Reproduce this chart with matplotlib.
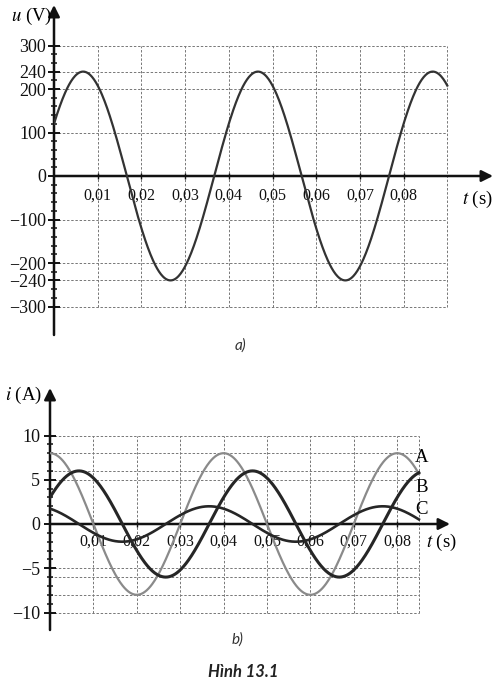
import matplotlib
matplotlib.use("Agg")
import matplotlib.pyplot as plt
import numpy as np

plt.rcParams['font.family'] = ['Liberation Serif', 'DejaVu Serif']
plt.rcParams['mathtext.fontset'] = 'stix'

# values
period = 0.04                       # s, both charts
u_amp = 240                         # V
u_phase_deg = 30
u_t_end = 0.09

i_names = ['A', 'B', 'C']
i_amps = [8, 6, 2]                  # A
i_phase_deg = [90, 30, 120]
i_colors = ['#8a8a8a', '#262626', '#262626']
i_widths = [1.6, 2.2, 1.9]
i_t_end = 0.085

u_ticks = [-300, -240, -200, -100, 0, 100, 200, 240, 300]
i_ticks = [-10, -5, 0, 5, 10]
i_grid = [-10, -8, -6, -5, 5, 6, 8, 10]
t_ticks = [0.01, 0.02, 0.03, 0.04, 0.05, 0.06, 0.07, 0.08]
t_labels = ['0,01', '0,02', '0,03', '0,04', '0,05', '0,06', '0,07', '0,08']

W, H = 502, 683
fig = plt.figure(figsize=(W / 100, H / 100), dpi=100)
cap_font = ['Lato', 'Open Sans', 'DejaVu Sans']


def px_axes(left, top, right, bottom):
    return fig.add_axes([left / W, 1 - bottom / H, (right - left) / W, (bottom - top) / H])


def ftext(x, y, s, **kw):
    fig.text(x / W, 1 - y / H, s, **kw)


def setup(ax, xmax, ylo, yhi, yticks, ylabels, minor_step, xpad, ypad, ysize):
    ax.set_xlim(0, xmax)
    ax.set_ylim(ylo, yhi)
    ax.patch.set_alpha(0)
    for s in ['top', 'right']:
        ax.spines[s].set_visible(False)
    ax.spines['left'].set_position(('data', 0))
    ax.spines['bottom'].set_position(('data', 0))
    ax.spines['left'].set_visible(False)
    ax.spines['bottom'].set_visible(False)
    ax.annotate('', xy=(0, yhi), xytext=(0, ylo),
                arrowprops=dict(arrowstyle='-|>', color='#111111', lw=1.8,
                                mutation_scale=17, shrinkA=0, shrinkB=0))
    ax.annotate('', xy=(xmax, 0), xytext=(0, 0),
                arrowprops=dict(arrowstyle='-|>', color='#111111', lw=1.8,
                                mutation_scale=17, shrinkA=0, shrinkB=0))
    ax.set_yticks(yticks)
    ax.set_yticklabels(ylabels)
    ax.set_yticks(np.arange(yticks[0], yticks[-1] + minor_step / 2, minor_step), minor=True)
    ax.set_xticks(t_ticks)
    ax.set_xticklabels(t_labels)
    ax.tick_params(axis='y', which='major', direction='inout', length=8, width=1.4,
                   pad=ypad, labelsize=ysize, color='#111111', labelcolor='#111111')
    ax.tick_params(axis='y', which='minor', direction='inout', length=5, width=1.1,
                   color='#111111')
    ax.tick_params(axis='x', which='major', direction='inout', length=5, width=1.0,
                   pad=xpad, labelsize=11.5, color='#111111', labelcolor='#111111')


grid_kw = dict(color='#777777', lw=0.7, linestyle=(0, (2.5, 1.8)), zorder=1)

# ---- a) voltage ----
ax1 = px_axes(54, 5, 493, 335)
sy1 = 0.435
setup(ax1, (493 - 54) / 4370, -(335 - 176) / sy1, (176 - 5) / sy1,
      u_ticks, [str(v).replace('-', '\u2212') for v in u_ticks], 20, 6, 1.5, 13)
ax1.vlines(t_ticks + [0.09], -300, 300, **grid_kw)
ax1.hlines([v for v in u_ticks if v != 0], 0, 0.09, **grid_kw)
t = np.linspace(0, u_t_end, 600)
ax1.plot(t, u_amp * np.sin(2 * np.pi * t / period + np.radians(u_phase_deg)),
         color='#333333', lw=1.6, zorder=3)
ftext(52, 16, r'$u$ (V)', ha='right', va='center', fontsize=13.5)
ftext(477, 199, r'$t$ (s)', ha='center', va='center', fontsize=13.5)
ftext(240, 346, 'a)', ha='center', va='center', fontsize=11, style='italic',
      family=cap_font, color='#333333')

# ---- b) currents ----
ax2 = px_axes(50, 388, 450, 630)
sy2 = 8.85
setup(ax2, (450 - 50) / 4340, -(630 - 524) / sy2, (524 - 388) / sy2,
      i_ticks, [str(v).replace('-', '\u2212') for v in i_ticks], 1, 4.5, 3, 13)
ax2.vlines(t_ticks + [i_t_end], -10, 10, **grid_kw)
ax2.hlines(i_grid, 0, i_t_end, **grid_kw)
t = np.linspace(0, i_t_end, 600)
for name, amp, ph, c, w in zip(i_names, i_amps, i_phase_deg, i_colors, i_widths):
    ax2.plot(t, amp * np.sin(2 * np.pi * t / period + np.radians(ph)),
             color=c, lw=w, zorder=3)
for name, y in zip(i_names, [457, 488, 510]):
    ftext(422, y, name, ha='center', va='center', fontsize=13.5)
ftext(42, 395, r'$i$ (A)', ha='right', va='center', fontsize=13.5)
ftext(441, 542, r'$t$ (s)', ha='center', va='center', fontsize=13.5)
ftext(237, 640, 'b)', ha='center', va='center', fontsize=11, style='italic',
      family=cap_font, color='#333333')
ftext(243, 672, 'Hình 13.1', ha='center', va='center', fontsize=12, style='italic',
      weight='bold', family=cap_font, color='#222222')

fig.savefig('out.png', dpi=100)
